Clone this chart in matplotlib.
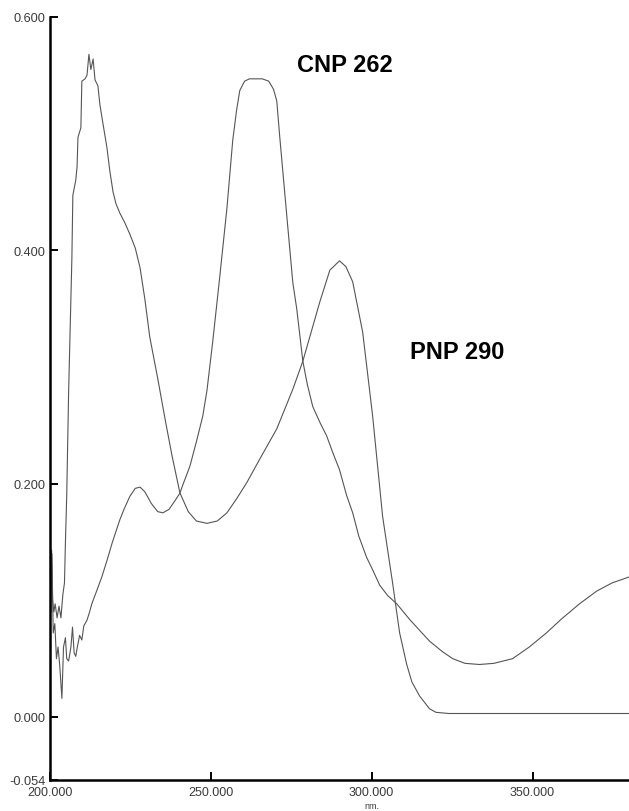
"""Absorbance spectra of CNP and PNP, redrawn from a scanned spectrophotometer trace."""

import matplotlib
matplotlib.use("Agg")
import matplotlib.pyplot as plt

# PNP trace (wavelength in nm, absorbance)
pnp_nm = [200.0, 200.5, 200.8, 201.2, 201.6, 202.2, 202.8, 203.4, 204.0, 204.5,
          204.8, 205.2, 205.8, 206.2, 206.8, 207.1, 208.0, 208.4, 208.7, 209.6,
          209.9, 210.9, 211.5, 212.1, 212.7, 213.4, 214.0, 214.9, 215.5, 216.5,
          217.7, 218.6, 219.6, 220.5, 221.7, 223.2, 224.8, 226.5, 228.0, 229.5,
          231.0, 233.5, 236.0, 238.0, 240.4, 243.0, 245.5, 248.8, 252.0, 255.0,
          258.0, 261.2, 265.2, 270.5, 275.5, 278.6, 283.9, 287.0, 290.0, 292.0,
          294.1, 297.2, 300.3, 303.4, 306.5, 308.7, 310.9, 312.5, 314.9, 318.0,
          320.0, 324.0, 340.0, 360.0, 380.0]
pnp_abs = [0.100, 0.143, 0.100, 0.090, 0.097, 0.085, 0.095, 0.085, 0.105, 0.115,
           0.150, 0.190, 0.280, 0.325, 0.393, 0.447, 0.460, 0.471, 0.497, 0.505,
           0.545, 0.547, 0.550, 0.568, 0.555, 0.564, 0.546, 0.541, 0.525, 0.508,
           0.488, 0.468, 0.450, 0.440, 0.432, 0.424, 0.414, 0.402, 0.385, 0.358,
           0.326, 0.290, 0.252, 0.223, 0.192, 0.176, 0.168, 0.166, 0.168, 0.175,
           0.187, 0.201, 0.221, 0.247, 0.281, 0.305, 0.356, 0.383, 0.391, 0.386,
           0.373, 0.330, 0.258, 0.172, 0.115, 0.072, 0.045, 0.030, 0.018, 0.007,
           0.004, 0.003, 0.003, 0.003, 0.003]

# CNP trace (wavelength in nm, absorbance)
cnp_nm = [200.0, 200.3, 200.6, 201.0, 201.5, 202.0, 202.5, 203.0, 203.7, 204.2,
          204.8, 205.2, 205.8, 206.5, 207.0, 207.5, 208.0, 208.5, 209.2, 209.9,
          210.5, 211.5, 212.3, 213.0, 214.5, 216.1, 217.7, 219.3, 221.7, 223.0,
          224.8, 226.5, 228.0, 229.5, 231.5, 233.5, 235.1, 237.0, 239.0, 240.4,
          241.3, 243.5, 245.7, 247.5, 248.8, 250.6, 252.8, 255.0, 256.8, 258.0,
          259.0, 260.5, 262.0, 264.0, 266.0, 268.0, 269.5, 270.5, 271.4, 273.6,
          275.5, 276.7, 278.6, 280.0, 281.7, 284.0, 286.0, 288.0, 290.0, 292.2,
          294.1, 296.0, 298.4, 300.5, 302.5, 305.0, 307.8, 312.0, 318.0, 322.0,
          325.2, 329.0, 333.5, 338.0, 343.8, 349.0, 354.3, 359.0, 364.6, 370.0,
          374.8, 380.0]
cnp_abs = [0.120, 0.090, 0.140, 0.072, 0.080, 0.050, 0.060, 0.045, 0.016, 0.060,
           0.068, 0.050, 0.048, 0.060, 0.077, 0.055, 0.052, 0.060, 0.070, 0.066,
           0.078, 0.083, 0.090, 0.097, 0.108, 0.120, 0.134, 0.149, 0.169, 0.178,
           0.189, 0.196, 0.197, 0.193, 0.183, 0.176, 0.175, 0.178, 0.186, 0.192,
           0.199, 0.215, 0.238, 0.258, 0.280, 0.322, 0.378, 0.436, 0.494, 0.520,
           0.537, 0.545, 0.547, 0.547, 0.547, 0.545, 0.538, 0.528, 0.498, 0.430,
           0.372, 0.350, 0.305, 0.285, 0.266, 0.252, 0.241, 0.226, 0.212, 0.190,
           0.175, 0.155, 0.137, 0.125, 0.113, 0.104, 0.097, 0.083, 0.065, 0.056,
           0.050, 0.046, 0.045, 0.046, 0.050, 0.060, 0.072, 0.084, 0.097, 0.108,
           0.115, 0.120]

x_ticks = [200, 250, 300, 350]
x_tick_labels = ["200.000", "250.000", "300.000", "350.000"]
y_ticks = [-0.054, 0.0, 0.2, 0.4, 0.6]
y_tick_labels = ["-0.054", "0.000", "0.200", "0.400", "0.600"]

peak_labels = [("CNP 262", 276.7, 0.559), ("PNP 290", 311.8, 0.313)]


def style_axes(ax):
    """Makes the axes look like the instrument printout."""

    ax.set_xlim(200, 380)
    ax.set_ylim(-0.054, 0.600)
    for side in ("top", "right"):
        ax.spines[side].set_visible(False)
    for side in ("left", "bottom"):
        ax.spines[side].set_linewidth(1.8)

    ax.set_xticks(x_ticks)
    ax.set_xticklabels(x_tick_labels)
    ax.set_yticks(y_ticks)
    ax.set_yticklabels(y_tick_labels)
    ax.tick_params(direction="in", length=6, width=1.4, labelsize=9.2,
                   labelcolor="#3a3a3a")
    ax.tick_params(axis="x", labelsize=9, pad=4.5)
    ax.tick_params(axis="y", pad=3)

    # "nm." sits right under the 300.000 label, at the bottom edge of the page
    ax.set_xlabel("nm.", fontsize=6.5, color="#3a3a3a", labelpad=0)
    ax.xaxis.set_label_coords((300 - 200) / (380 - 200), -0.027)


def main():
    plt.rcParams["font.family"] = ["Liberation Sans", "DejaVu Sans"]

    fig = plt.figure(figsize=(6.29, 8.12), dpi=100)
    ax = fig.add_axes([50 / 629, 31 / 812, 579 / 629, 763 / 812])

    ax.plot(pnp_nm, pnp_abs, color="#555555", linewidth=0.8)
    ax.plot(cnp_nm, cnp_abs, color="#555555", linewidth=0.8)

    for text, x, y in peak_labels:
        ax.text(x, y, text, fontsize=17, fontweight="bold", va="center", ha="left")

    style_axes(ax)
    fig.savefig("out.png", dpi=100)


if __name__ == "__main__":
    main()
